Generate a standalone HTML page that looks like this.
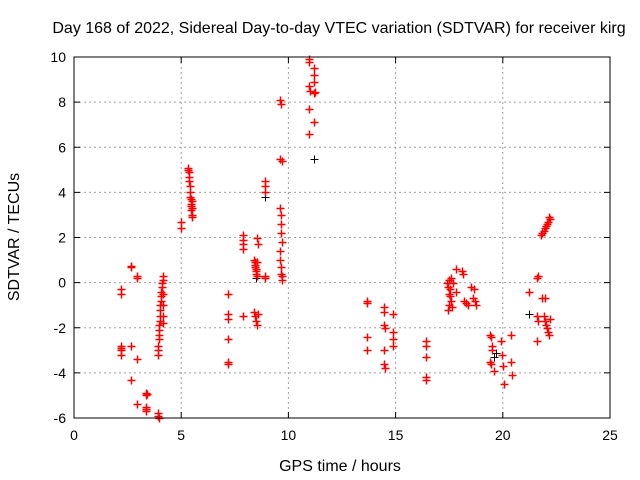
<!DOCTYPE html>
<html><head><meta charset="utf-8"><style>
body{margin:0;background:#fff;}
svg{display:block;font-family:"Liberation Sans",sans-serif;}
</style></head><body>
<svg id="chart" width="640" height="480">
<text x="339" y="33" font-size="16" text-anchor="middle">Day 168 of 2022, Sidereal Day-to-day VTEC variation (SDTVAR) for receiver kirg</text>
<text x="340" y="471" font-size="16" text-anchor="middle">GPS time / hours</text>
<text transform="translate(19,237) rotate(-90)" font-size="16" text-anchor="middle">SDTVAR / TECUs</text>
<g id="grid"></g>
<g id="ticks"></g>
<g id="marks"></g>
<rect x="74" y="57" width="536" height="361" fill="none" stroke="#000" stroke-width="1"/>
</svg>
<script>
const xTicks=[0,5,10,15,20,25];
const yTicks=[-6,-4,-2,0,2,4,6,8,10];
const redHours=[2.2,2.2,2.2,2.2,2.2,2.2,2.65,2.65,2.65,2.65,2.95,2.95,2.95,2.95,3.35,3.35,3.35,3.35,3.35,3.4,3.9,3.9,3.95,3.9,3.9,3.92,3.95,3.95,3.97,3.98,4.0,4.0,4.0,4.02,4.05,4.05,4.08,4.1,4.1,4.15,4.15,4.15,4.15,4.15,4.15,
5.0,5.0,5.3,5.32,5.35,5.36,5.38,5.4,5.4,5.42,5.44,5.45,5.46,5.48,5.5,5.5,5.5,5.52,
7.2,7.2,7.2,7.2,7.2,7.2,7.9,7.9,7.9,7.9,7.9,8.4,8.42,8.45,8.45,8.48,8.5,8.5,8.52,8.55,8.4,8.45,8.5,8.55,8.6,8.55,8.6,8.9,8.9,8.9,8.9,8.9,
9.6,9.65,9.6,9.7,9.62,9.64,9.65,9.66,9.68,9.6,9.62,9.64,9.66,9.7,9.68,
10.95,10.95,10.95,11.0,10.95,10.95,11.2,11.2,11.2,11.2,11.2,11.25,
13.65,13.65,13.65,13.65,14.45,14.45,14.45,14.5,14.45,14.45,14.5,14.9,14.9,14.9,14.9,16.4,16.4,16.4,16.4,16.4,
17.4,17.45,17.5,17.5,17.55,17.6,17.6,17.65,17.7,17.45,17.5,17.55,17.8,17.8,18.1,18.15,18.2,18.3,18.4,18.5,18.6,18.65,18.7,18.75,
19.4,19.45,19.5,19.4,19.45,19.5,19.6,19.9,19.95,20.0,20.05,20.4,20.4,20.45,21.2,21.6,21.65,21.6,21.65,21.6,
21.8,21.85,21.9,21.95,22.0,22.05,22.1,22.15,21.85,21.9,21.95,22.0,22.05,22.1,22.15,22.2,21.95,22.2];
const redValues=[-0.3,-0.5,-2.8,-2.9,-3.0,-3.2,0.75,0.7,-2.8,-4.3,0.3,0.2,-3.4,-5.4,-4.9,-5.0,-5.5,-5.6,-5.7,-4.95,-5.8,-5.9,-6.0,-3.2,-3.0,-2.8,-2.5,-2.3,-2.1,-1.9,-1.7,-1.5,-1.2,-1.0,-0.8,-0.6,-0.4,-0.2,0.0,0.3,0.1,-0.5,-1.0,-1.5,-1.8,
2.4,2.7,5.1,5.0,4.9,4.7,4.5,4.3,4.0,3.8,3.7,3.5,3.4,3.2,3.0,2.9,3.6,3.3,
-0.5,-1.4,-1.6,-2.5,-3.5,-3.6,2.1,1.9,1.7,1.5,-1.5,1.0,0.9,0.8,0.7,0.6,0.5,0.4,0.3,0.9,-1.3,-1.5,-1.7,-1.9,-1.4,2.0,1.7,4.5,4.3,4.0,0.3,0.2,
8.1,7.9,5.5,5.4,3.3,3.0,2.6,2.2,1.8,1.4,1.0,0.7,0.4,0.1,0.3,
9.9,9.8,8.7,8.5,7.7,6.6,9.5,9.2,8.9,8.4,7.1,8.45,
-0.8,-0.9,-2.4,-3.0,-1.1,-1.3,-1.9,-2.0,-3.0,-3.6,-3.8,-1.4,-2.2,-2.5,-2.8,-2.6,-2.8,-3.3,-4.2,-4.3,
0.0,-0.2,0.1,-0.5,-0.3,0.2,-0.8,-1.1,0.0,-1.2,-1.0,-0.6,0.6,-0.4,0.5,0.4,-0.8,-0.9,-1.0,-0.2,-0.7,-0.3,-0.8,-1.0,
-2.3,-2.4,-2.8,-3.5,-3.6,-3.0,-3.9,-2.6,-3.2,-3.7,-4.5,-2.3,-3.5,-4.1,-0.4,0.2,0.3,-1.5,-1.7,-2.6,
2.1,2.2,2.3,2.4,2.5,2.6,2.7,2.9,-0.7,-1.5,-1.7,-1.9,-2.0,-2.2,-2.3,-1.6,-0.7,2.8];
const blackHours=[2.2,8.9,11.2,19.7,21.2,13.65,19.6,8.5];
const blackValues=[-0.5,3.8,5.5,-3.1,-1.4,-2.4,-3.3,0.2];

const X0=74,X1=610,Y0=418,Y1=57;
const xs=h=>X0+(h-0)/(25-0)*(X1-X0);
const ys=v=>Y0-(v+6)/(16)*(Y0-Y1);
const NS='http://www.w3.org/2000/svg';
const grid=document.getElementById('grid'),ticks=document.getElementById('ticks'),marks=document.getElementById('marks');
function mk(tag,attrs,parent){const e=document.createElementNS(NS,tag);for(const k in attrs)e.setAttribute(k,attrs[k]);parent.appendChild(e);return e;}
xTicks.forEach(t=>{
  const x=xs(t);
  if(t>0&&t<25){const g=mk('line',{x1:x,y1:Y1,x2:x,y2:Y0,stroke:'#a0a0a0','stroke-dasharray':'2,3'},grid);
  
  }
  mk('line',{x1:x,y1:Y0,x2:x,y2:Y0-6,stroke:'#000'},ticks);
  mk('line',{x1:x,y1:Y1,x2:x,y2:Y1+6,stroke:'#000'},ticks);
  const l=mk('text',{x:x,y:Y0+22,'font-size':'14','text-anchor':'middle'},ticks);
  l.textContent=t;
  
  
});
yTicks.forEach(t=>{
  const y=ys(t);
  if(t>-6&&t<10){const g=mk('line',{x1:X0,y1:y,x2:X1,y2:y,stroke:'#a0a0a0','stroke-dasharray':'2,3'},grid);
  
  }
  mk('line',{x1:X0,y1:y,x2:X0+6,y2:y,stroke:'#000'},ticks);
  mk('line',{x1:X1,y1:y,x2:X1-6,y2:y,stroke:'#000'},ticks);
  const l=mk('text',{x:X0-8,y:y+5,'font-size':'14','text-anchor':'end'},ticks);
  l.textContent=t;
  
  
});
function cross(h,v,color,name,w){
  const x=Math.round(xs(h))+0.5,y=Math.round(ys(v))+0.5;
  const p=mk('path',{d:`M${x-4},${y}H${x+4}M${x},${y-4}V${y+4}`,stroke:color,'stroke-width':w,fill:'none'},marks);
  
  
}
blackHours.forEach((h,i)=>cross(h,blackValues[i],'#000','black-point','1'));
redHours.forEach((h,i)=>cross(h,redValues[i],'#ff0000','red-point','1.5'));
</script>
</body></html>
